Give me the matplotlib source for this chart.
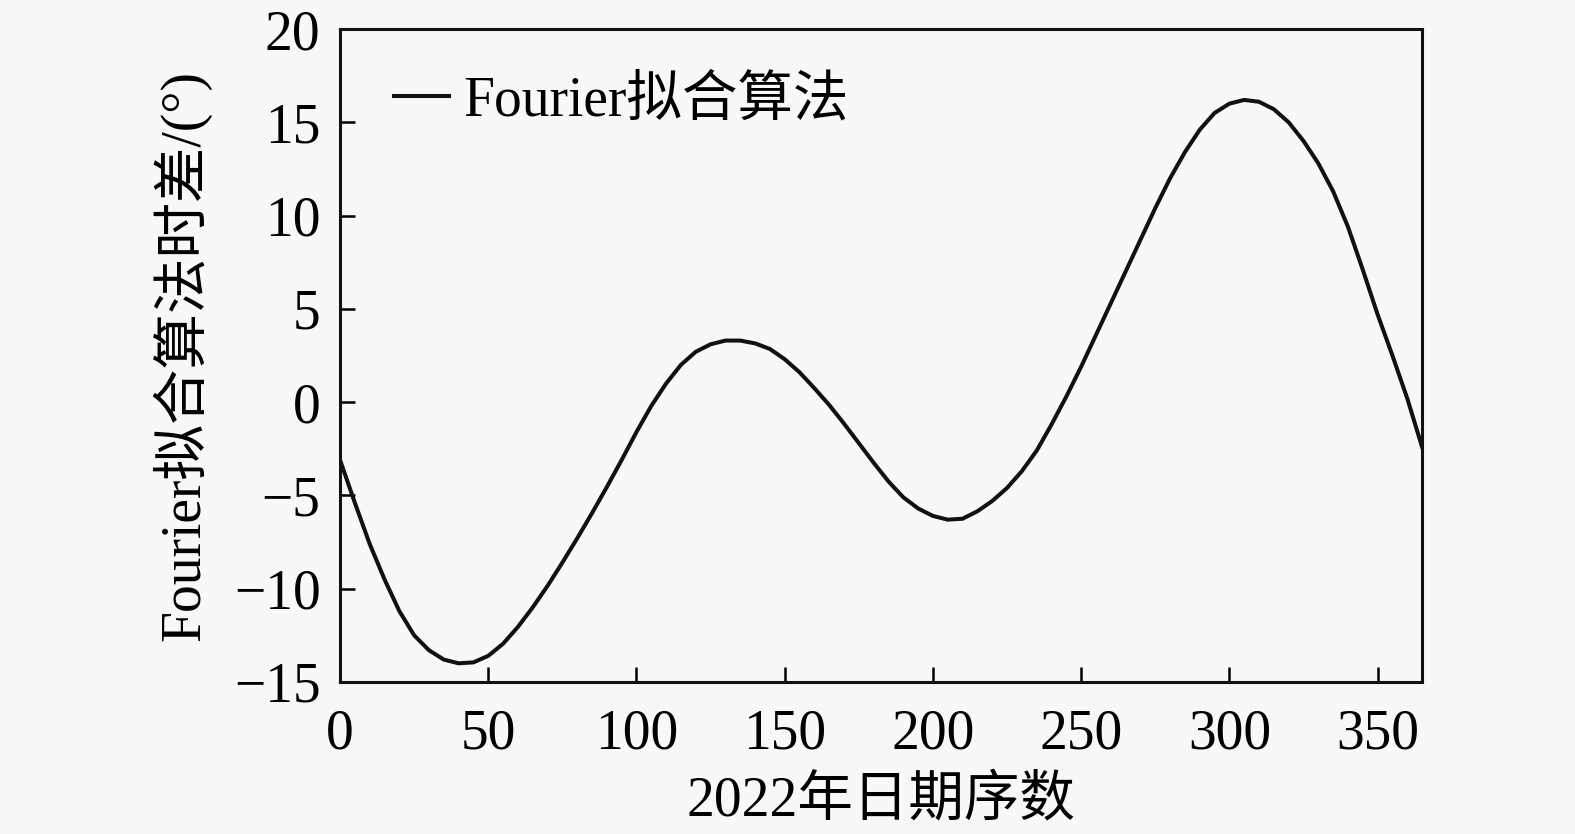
import numpy as np
import matplotlib.pyplot as plt

# day of year and Fourier-fit equation of time
days = [0, 5, 10, 15, 20, 25, 30, 35, 40, 45, 50, 55, 60, 65, 70, 75, 80, 85, 90, 95,
        100, 105, 110, 115, 120, 125, 130, 135, 140, 145, 150, 155, 160, 165, 170, 175,
        180, 185, 190, 195, 200, 205, 210, 215, 220, 225, 230, 235, 240, 245, 250, 255,
        260, 265, 270, 275, 280, 285, 290, 295, 300, 305, 310, 315, 320, 325, 330, 335,
        340, 345, 350, 355, 360, 365]
eot = [-3.1, -5.4, -7.6, -9.5, -11.2, -12.5, -13.3, -13.8, -14.0, -13.95, -13.6, -12.95,
       -12.05, -11.0, -9.85, -8.6, -7.3, -5.95, -4.55, -3.1, -1.6, -0.2, 1.0, 2.0, 2.7,
       3.1, 3.3, 3.3, 3.15, 2.85, 2.3, 1.6, 0.75, -0.15, -1.15, -2.2, -3.25, -4.25, -5.1,
       -5.7, -6.1, -6.3, -6.25, -5.85, -5.3, -4.6, -3.7, -2.6, -1.2, 0.3, 1.9, 3.6, 5.3,
       7.0, 8.7, 10.4, 12.0, 13.4, 14.6, 15.5, 16.0, 16.2, 16.1, 15.7, 15.0, 14.0, 12.8,
       11.3, 9.4, 7.1, 4.7, 2.5, 0.2, -2.4]

xticks = [0, 50, 100, 150, 200, 250, 300, 350]
yticks = [-15, -10, -5, 0, 5, 10, 15, 20]

plt.rcParams['font.family'] = ['Liberation Serif', 'Noto Sans CJK SC']
plt.rcParams['axes.unicode_minus'] = True

fig = plt.figure(figsize=(15.75, 8.34), dpi=100, facecolor='#f8f8f8')
ax = fig.add_axes([0.2159, 0.1823, 0.6870, 0.7829])
ax.set_facecolor('#f8f8f8')

ax.plot(days, eot, color='#111111', lw=2.9, label='Fourier拟合算法',
        solid_joinstyle='round')

ax.set_xlim(0, 365)
ax.set_ylim(-15, 20)
ax.set_xticks(xticks)
ax.set_yticks(yticks)
ax.tick_params(direction='in', length=11, width=1.8, labelsize=40,
               top=False, right=False)
ax.tick_params(axis='x', pad=19)
ax.tick_params(axis='y', pad=14)
for s in ax.spines.values():
    s.set_linewidth(2.2)
    s.set_color('#111111')

ax.set_xlabel('2022年日期序数', fontsize=40, labelpad=11)
ax.set_ylabel('Fourier拟合算法时差/(°)', fontsize=40, labelpad=16)

ax.legend(loc='upper left', frameon=False, fontsize=40, handlelength=1.0,
          handletextpad=0.25, borderaxespad=0, bbox_to_anchor=(0.029, 0.963))

fig.savefig('out.png', dpi=100, facecolor=fig.get_facecolor())
